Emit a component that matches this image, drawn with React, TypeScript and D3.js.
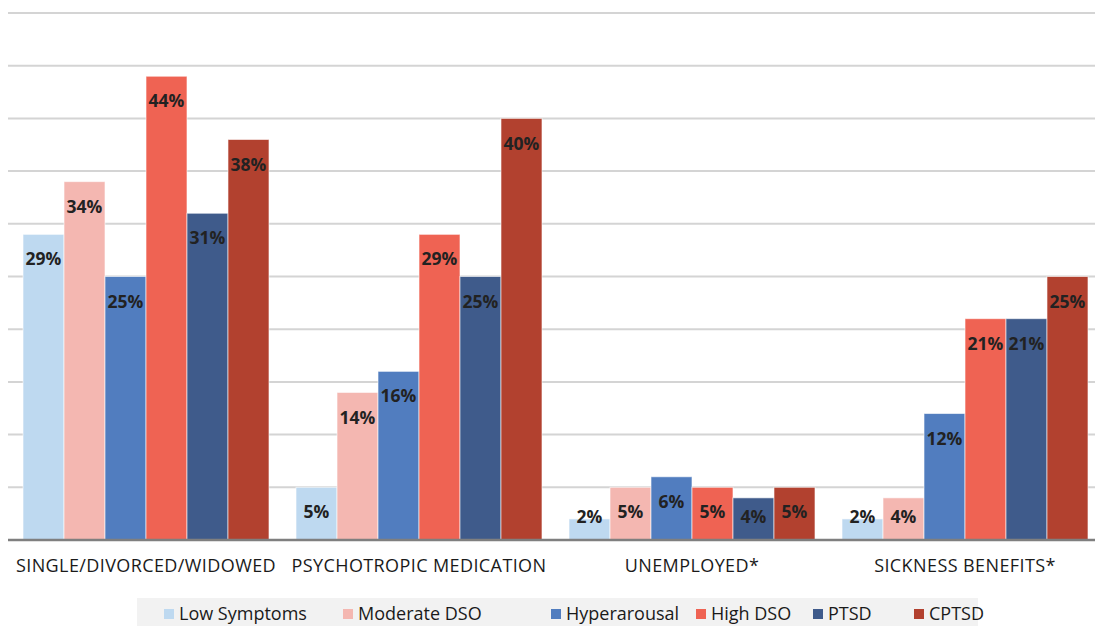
import { useEffect, useRef } from "react";
import * as d3 from "d3";

const categories = [
  "SINGLE/DIVORCED/WIDOWED",
  "PSYCHOTROPIC MEDICATION",
  "UNEMPLOYED*",
  "SICKNESS BENEFITS*",
];
const seriesNames = ["Low Symptoms", "Moderate DSO", "Hyperarousal", "High DSO", "PTSD", "CPTSD"];
const seriesColors = ["#bed9f0", "#f4b7b1", "#517dbf", "#ef6353", "#3f5b8b", "#b2412f"];

const lowSymptoms = [29, 5, 2, 2];
const moderateDso = [34, 14, 5, 4];
const hyperarousal = [25, 16, 6, 12];
const highDso = [44, 29, 5, 21];
const ptsd = [31, 25, 4, 21];
const cptsd = [38, 40, 5, 25];
const seriesValues = [lowSymptoms, moderateDso, hyperarousal, highDso, ptsd, cptsd];

const gridTicks = [5, 10, 15, 20, 25, 30, 35, 40, 45, 50];

const legendX = [164, 343, 551, 696, 813, 914];

const W = 1095;
const H = 626;
const FONT = "'Open Sans', sans-serif";

export default function App() {
  const svgRef = useRef<SVGSVGElement>(null);

  useEffect(() => {
    const svg = d3.select(svgRef.current);
    svg.selectAll("*").remove();

    const y = d3.scaleLinear().domain([0, 50]).range([540, 13]);
    const x0 = d3
      .scaleBand()
      .domain(categories)
      .range([9.5, 1101.5])
      .paddingInner(0.099)
      .paddingOuter(0.0495);
    const x1 = d3
      .scaleBand()
      .domain(seriesNames)
      .range([0, x0.bandwidth()]);

    svg.append("rect").attr("width", W).attr("height", H).attr("fill", "#ffffff");

    // gridlines
    svg
      .append("g")
      .selectAll("line")
      .data(gridTicks)
      .join("line")
      .attr("x1", 8)
      .attr("x2", W)
      .attr("y1", (d) => y(d))
      .attr("y2", (d) => y(d))
      .attr("stroke", "#d4d4d4")
      .attr("stroke-width", 2);

    // bars
    const groups = svg
      .append("g")
      .selectAll("g")
      .data(categories)
      .join("g")
      .attr("transform", (d) => `translate(${x0(d)},0)`);

    groups
      .selectAll("rect")
      .data((_, ci) => seriesNames.map((s, si) => ({ s, si, v: seriesValues[si][ci] })))
      .join("rect")
      .attr("x", (d) => x1(d.s)!)
      .attr("width", x1.bandwidth())
      .attr("y", (d) => y(d.v))
      .attr("height", (d) => y(0) - y(d.v))
      .attr("fill", (d) => seriesColors[d.si])
      .attr("stroke", "#ffffff")
      .attr("stroke-opacity", 0.6)
      .attr("stroke-width", 1);

    groups
      .selectAll("text")
      .data((_, ci) => seriesNames.map((s, si) => ({ s, si, v: seriesValues[si][ci] })))
      .join("text")
      .attr("x", (d) => x1(d.s)! + x1.bandwidth() / 2)
      .attr("y", (d) => Math.min(y(d.v) + 25, y(0) - 23))
      .attr("dy", "0.35em")
      .attr("text-anchor", "middle")
      .attr("font-family", FONT)
      .attr("font-weight", "bold")
      .attr("font-size", 17.5)
      .attr("fill", "#222222")
      .text((d) => `${d.v}%`);

    // baseline
    svg
      .append("line")
      .attr("x1", 8)
      .attr("x2", W)
      .attr("y1", y(0))
      .attr("y2", y(0))
      .attr("stroke", "#7f7f7f")
      .attr("stroke-width", 2.5);

    // category labels
    svg
      .append("g")
      .selectAll("text")
      .data(categories)
      .join("text")
      .attr("x", (d) => x0(d)! + x0.bandwidth() / 2)
      .attr("y", 566)
      .attr("dy", "0.35em")
      .attr("text-anchor", "middle")
      .attr("font-family", FONT)
      .attr("font-size", 18)
      .attr("letter-spacing", 0.4)
      .attr("fill", "#1a1a1a")
      .text((d) => d);

    // legend
    const legend = svg.append("g");
    legend
      .append("rect")
      .attr("x", 137)
      .attr("y", 598)
      .attr("width", 841)
      .attr("height", 30)
      .attr("fill", "#f2f2f2");

    const items = legend
      .selectAll("g")
      .data(seriesNames)
      .join("g")
      .attr("transform", (_, i) => `translate(${legendX[i]},614)`);
    items
      .append("rect")
      .attr("x", 0)
      .attr("y", -5)
      .attr("width", 10)
      .attr("height", 10)
      .attr("fill", (_, i) => seriesColors[i]);
    items
      .append("text")
      .attr("x", 15)
      .attr("y", 0)
      .attr("dy", "0.35em")
      .attr("font-family", FONT)
      .attr("font-size", 18)
      .attr("fill", "#1a1a1a")
      .text((d) => d);
  }, []);

  return (
    <svg
      ref={svgRef}
      width={W}
      height={H}
      style={{ position: "absolute", left: 0, top: 0, display: "block" }}
    />
  );
}
